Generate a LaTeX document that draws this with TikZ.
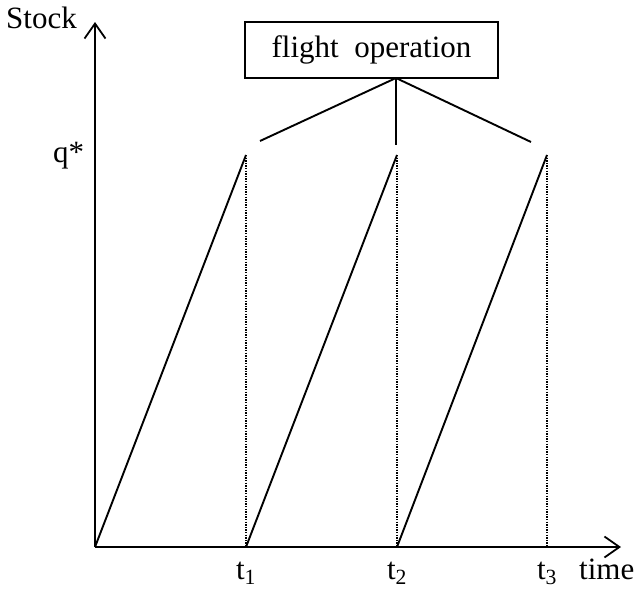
\documentclass[tikz,border=0pt]{standalone}
\usepackage{fontspec}
\setmainfont{Liberation Serif}
\usetikzlibrary{arrows.meta}
\begin{document}
\begin{tikzpicture}[x=1pt,y=-1pt,
  axis/.style={line width=1.8pt,-{Straight Barb[length=15pt,width=21pt,line width=1.8pt]}},
  saw/.style={line width=1.9pt},
  guide/.style={line width=1.3pt,dash pattern=on 1.3pt off 1.3pt},
  branch/.style={line width=1.9pt},
  lbl/.style={font=\fontsize{31}{36}\selectfont,inner sep=0pt},
  boxstyle/.style={draw,line width=1.9pt,inner sep=0pt,font=\fontsize{31}{36}\selectfont}]
\useasboundingbox (0,0) rectangle (635,589);
% axes
\coordinate (O) at (95,547);
\coordinate (Ytip) at (95,22);
\coordinate (Xtip) at (621,547);
\draw[axis] (O) -- (Ytip);
\draw[axis] (O) -- (Xtip);
% sawtooth
\coordinate (P1) at (246,155);
\coordinate (P2) at (397,155);
\coordinate (P3) at (547,155);
\coordinate (B2) at (246,547);
\coordinate (B3) at (397,547);
\coordinate (B4) at (547,547);
\draw[saw] (O) -- (P1);
\draw[saw] (B2) -- (P2);
\draw[saw] (B3) -- (P3);
\draw[guide] (P1) -- (B2);
\draw[guide] (P2) -- (B3);
\draw[guide] (P3) -- (B4);
% box
\node[boxstyle,minimum width=253pt,minimum height=56pt] (box) at (371.5,50) {flight\hspace{0.5em}operation};
\coordinate (apex) at (396,78);
\coordinate (E1) at (260,141);
\coordinate (E2) at (396,145);
\coordinate (E3) at (531,142);
\draw[branch] (apex) -- (E1);
\draw[branch] (apex) -- (E2);
\draw[branch] (apex) -- (E3);
% labels
\node[lbl,anchor=base west] (stock) at (6,28) {Stock};
\node[lbl,anchor=base west] (q) at (53,162) {q*};
\node[lbl,anchor=base] (t1) at (246,579) {t\textsubscript{1}};
\node[lbl,anchor=base] (t2) at (397,579) {t\textsubscript{2}};
\node[lbl,anchor=base] (t3) at (547,579) {t\textsubscript{3}};
\node[lbl,anchor=base west] (time) at (579,579) {time};
\end{tikzpicture}
\end{document}
